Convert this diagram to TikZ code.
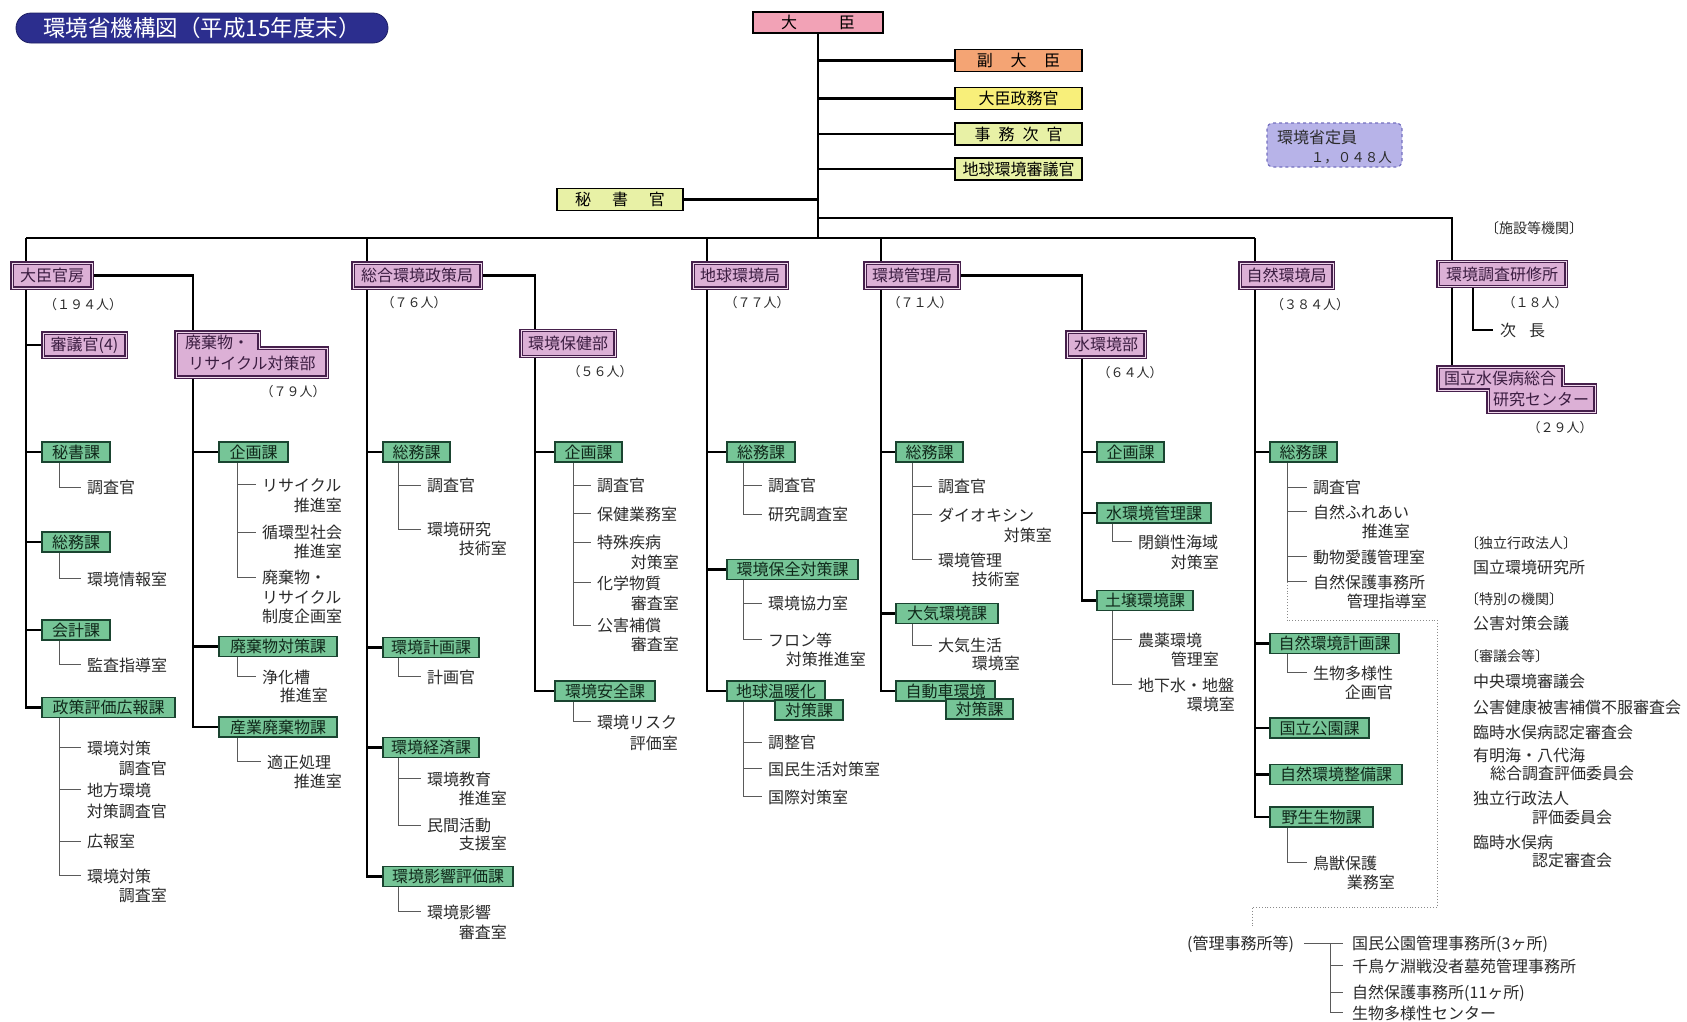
\documentclass[tikz,border=0pt]{standalone}
\usepackage{fontspec}
\setmainfont{Noto Sans CJK JP}
\usetikzlibrary{backgrounds}
\definecolor{pbfill}{HTML}{DCB0D6}
\definecolor{pbdraw}{HTML}{46204C}
\definecolor{pbmid}{HTML}{F0D8EC}
\definecolor{gfill}{HTML}{76C597}
\definecolor{gdraw}{HTML}{1A4430}
\definecolor{gtext}{HTML}{10281A}
\definecolor{ptext}{HTML}{3A1C40}
\definecolor{titleblue}{HTML}{2C2E8E}
\definecolor{daijinc}{HTML}{F2A2B6}
\definecolor{fukuc}{HTML}{F4A474}
\definecolor{seimuc}{HTML}{F8EF7A}
\definecolor{jimuc}{HTML}{E8F1A6}
\definecolor{teiinc}{HTML}{B7B3E8}
\definecolor{teiind}{HTML}{7470C0}
\definecolor{subgray}{HTML}{5A5A5A}
\definecolor{txt}{HTML}{2A2A2A}
\definecolor{dotc}{HTML}{8A8A8A}
\tikzset{
  every node/.style={font=\fontsize{16}{19}\selectfont, inner sep=0pt, text=txt},
  gbox/.style={draw=gdraw, fill=gfill, line width=1.6pt, minimum height=20pt, text=gtext},
  pbox/.style={draw=pbdraw, double=pbmid, double distance=0.9pt, line width=1.2pt, fill=pbfill, minimum height=25pt, text=ptext},
  pshape/.style={draw=pbdraw, double=pbmid, double distance=0.9pt, line width=1.2pt, fill=pbfill},
  tbox/.style={draw=black, line width=1.8pt, minimum width=127pt, minimum height=22pt, text=black},
  st/.style={text=txt},
  cnt/.style={font=\fontsize{13}{15}\selectfont, text=txt},
  brk/.style={font=\fontsize{14}{16}\selectfont, text=txt},
  conn/.style={line width=2.5pt, black},
  subl/.style={line width=0.9pt, subgray},
  dotl/.style={line width=0.9pt, dotc, dotted},
}
\newcommand\GBox[5]{\node[gbox,minimum width=#4pt] (#1) at (#2,#3) {#5};}
\newcommand\SubL[4]{\node[st,anchor=base west] (#1) at (#2,#3+6) {#4};}
\newcommand\SubR[4]{\node[st,anchor=base east] (#1) at (#2,#3+6) {#4};}
\newcommand\SubLines[4]{\draw[subl] (#1.south -| #2) -- (#2 |- #3.west); \foreach \n in {#4} {\draw[subl] (#2 |- \n.west) -- ([xshift=-6pt]\n.west);}}
\begin{document}
\begin{tikzpicture}[x=1pt,y=-1pt]
\useasboundingbox (0,0) rectangle (1687,1021);
\begin{scope}[on background layer]
\fill[white] (0,0) rectangle (1687,1021);
\end{scope}

% coordinates
\coordinate (barL) at (26,238);
\coordinate (barR) at (1255,238);
\coordinate (bar1R) at (1452,218);
\coordinate (mnTop) at (1452,367);
\coordinate (v2) at (193,0);
\coordinate (v3) at (367,238);
\coordinate (v4) at (535,0);
\coordinate (v5) at (707,238);
\coordinate (v6) at (881,238);
\coordinate (v7) at (1082,0);
\coordinate (v9) at (1473,0);
\coordinate (x1) at (59,0);
\coordinate (x2) at (237,0);
\coordinate (x3) at (398,0);
\coordinate (x4) at (573,0);
\coordinate (x5) at (743,0);
\coordinate (x6) at (912,0);
\coordinate (x7) at (1112,0);
\coordinate (x8) at (1287,0);
\coordinate (kx) at (1330,0);
\coordinate (d1) at (1287,620);
\coordinate (d2) at (1437,620);
\coordinate (d3) at (1437,907);
\coordinate (d4) at (1252,907);
\coordinate (d5) at (1252,928);

% title
\node[fill=titleblue, draw=titleblue!70!black, line width=0.8pt, rounded corners=15pt, minimum width=372pt, minimum height=30pt, text=white, font=\fontsize{22.5}{26}\selectfont] (title) at (202,28) {環境省機構図（平成15年度末）};

% top boxes
\node[tbox, fill=daijinc, minimum width=130pt, minimum height=21pt] (daijin) at (818,22.5) {大\hspace{2.6em}臣};
\node[tbox, fill=fukuc] (fuku) at (1018.5,60.5) {副\hspace{1.1em}大\hspace{1.1em}臣};
\node[tbox, fill=seimuc] (seimu) at (1018.5,98.5) {大臣政務官};
\node[tbox, fill=jimuc] (jimu) at (1018.5,134) {事\hspace{0.5em}務\hspace{0.5em}次\hspace{0.5em}官};
\node[tbox, fill=jimuc] (chikyushin) at (1018.5,169) {地球環境審議官};
\node[tbox, fill=jimuc, minimum width=126pt] (hisho) at (620,199.5) {秘\hspace{1.3em}書\hspace{1.3em}官};

% teiin
\node[draw=teiind, dashed, line width=1.2pt, fill=teiinc, rounded corners=6pt, minimum width=135pt, minimum height=44pt] (teiin) at (1334.5,145) {};
\node[st, anchor=base west] (teiin1) at (1277,137+6) {環境省定員};
\node[st, anchor=base east, font=\fontsize{13.5}{16}\selectfont] (teiin2) at (1392,156+6) {１，０４８人};

\node[brk] (shisetsu) at (1534,228) {〔施設等機関〕};

% bureaus
\node[pbox, minimum width=80pt] (kanbo) at (52,275.5) {大臣官房};
\node[pbox, minimum width=128pt] (sogo) at (417,275.5) {総合環境政策局};
\node[pbox, minimum width=94pt] (chikyu) at (740,275.5) {地球環境局};
\node[pbox, minimum width=94pt] (kanri) at (912,275.5) {環境管理局};
\node[pbox, minimum width=93pt] (shizen) at (1286.5,275.5) {自然環境局};
\node[pbox, minimum width=128pt] (kenshu) at (1502,274) {環境調査研修所};

% counts
\node[cnt] (c1) at (83,305) {（１９４人）};
\node[cnt] (c2) at (414,303) {（７６人）};
\node[cnt] (c3) at (293,392) {（７９人）};
\node[cnt] (c4) at (600,372) {（５６人）};
\node[cnt] (c5) at (757,303) {（７７人）};
\node[cnt] (c6) at (920,303) {（７１人）};
\node[cnt] (c7) at (1130,373) {（６４人）};
\node[cnt] (c8) at (1310,305) {（３８４人）};
\node[cnt] (c9) at (1535,303) {（１８人）};
\node[cnt] (c10) at (1560,428) {（２９人）};
\node[st, anchor=base west] (jicho) at (1500,330+6) {次\hspace{0.8em}長};

% second level
\node[pbox, minimum width=83pt, minimum height=24pt] (shingi) at (84.5,345) {審議官(4)};
\draw[pshape] (176,332) -- (259,332) -- (259,348) -- (327,348) -- (327,377) -- (176,377) -- cycle;
\node[text=ptext] (hk1) at (217,342) {廃棄物・};
\node[text=ptext] (hk2) at (252,363) {リサイクル対策部};
\node[pbox, minimum width=94pt, minimum height=26pt] (hoken) at (568,343.5) {環境保健部};
\node[pbox, minimum width=78pt] (mizu) at (1106,344.5) {水環境部};
\draw[pshape] (1438,367) -- (1563,367) -- (1563,385) -- (1595,385) -- (1595,412) -- (1488,412) -- (1488,390) -- (1438,390) -- cycle;
\node[text=ptext] (mn1) at (1500,378) {国立水俣病総合};
\node[text=ptext] (mn2) at (1541,399) {研究センター};

% green boxes
\GBox{b11}{76}{452}{68}{秘書課}
\GBox{b12}{76}{542}{68}{総務課}
\GBox{b13}{76}{630}{68}{会計課}
\GBox{b14}{108.5}{707.5}{133}{政策評価広報課}
\GBox{b21}{253.5}{452}{69}{企画課}
\GBox{b22}{278}{646.5}{118}{廃棄物対策課}
\GBox{b23}{278}{727}{118}{産業廃棄物課}
\GBox{b31}{416.5}{452}{67}{総務課}
\GBox{b32}{431}{647.5}{96}{環境計画課}
\GBox{b33}{431}{747.5}{96}{環境経済課}
\GBox{b34}{448}{876.5}{130}{環境影響評価課}
\GBox{b41}{588.5}{452}{67}{企画課}
\GBox{b42}{605}{691}{100}{環境安全課}
\GBox{b51}{761}{452}{68}{総務課}
\GBox{b52}{792.5}{569.5}{131}{環境保全対策課}
\GBox{b53a}{776}{691}{98}{地球温暖化}
\GBox{b53b}{809}{710}{68}{対策課}
\GBox{b61}{929.5}{452}{67}{総務課}
\GBox{b62}{947}{613.5}{102}{大気環境課}
\GBox{b63a}{945.5}{691}{99}{自動車環境}
\GBox{b63b}{979.5}{709}{67}{対策課}
\GBox{b71}{1130.5}{452}{67}{企画課}
\GBox{b72}{1154}{513}{114}{水環境管理課}
\GBox{b73}{1145}{600.5}{96}{土壌環境課}
\GBox{b81}{1303.5}{452}{67}{総務課}
\GBox{b82}{1334.5}{643.5}{129}{自然環境計画課}
\GBox{b83}{1319.5}{728}{99}{国立公園課}
\GBox{b84}{1336}{774.5}{132}{自然環境整備課}
\GBox{b85}{1321.5}{817}{103}{野生生物課}

% sub items
\SubL{s11a}{87}{487}{調査官}
\SubL{s12a}{87}{579}{環境情報室}
\SubL{s13a}{87}{665}{監査指導室}
\SubL{s14a}{87}{748}{環境対策} \SubR{s14a2}{167}{768}{調査官}
\SubL{s14b}{87}{790}{地方環境} \SubR{s14b2}{167}{811}{対策調査官}
\SubL{s14c}{87}{841}{広報室}
\SubL{s14d}{87}{876}{環境対策} \SubR{s14d2}{167}{895}{調査室}
\SubL{s21a}{262}{485}{リサイクル} \SubR{s21a2}{342}{505}{推進室}
\SubL{s21b}{262}{532}{循環型社会} \SubR{s21b2}{342}{551}{推進室}
\SubL{s21c}{262}{577}{廃棄物・} \SubL{s21c2}{262}{597}{リサイクル} \SubL{s21c3}{262}{616}{制度企画室}
\SubL{s22a}{262}{677}{浄化槽} \SubR{s22a2}{328}{695}{推進室}
\SubL{s23a}{267}{762}{適正処理} \SubR{s23a2}{342}{781}{推進室}
\SubL{s31a}{427}{485}{調査官}
\SubL{s31b}{427}{529}{環境研究} \SubR{s31b2}{507}{548}{技術室}
\SubL{s32a}{427}{677}{計画官}
\SubL{s33a}{427}{779}{環境教育} \SubR{s33a2}{507}{798}{推進室}
\SubL{s33b}{427}{825}{民間活動} \SubR{s33b2}{507}{843}{支援室}
\SubL{s34a}{427}{912}{環境影響} \SubR{s34a2}{507}{932}{審査室}
\SubL{s41a}{597}{485}{調査官}
\SubL{s41b}{597}{514}{保健業務室}
\SubL{s41c}{597}{542}{特殊疾病} \SubR{s41c2}{679}{562}{対策室}
\SubL{s41d}{597}{583}{化学物質} \SubR{s41d2}{679}{603}{審査室}
\SubL{s41e}{597}{625}{公害補償} \SubR{s41e2}{679}{644}{審査室}
\SubL{s42a}{597}{722}{環境リスク} \SubR{s42a2}{678}{743}{評価室}
\SubL{s51a}{768}{485}{調査官}
\SubL{s51b}{768}{514}{研究調査室}
\SubL{s52a}{768}{603}{環境協力室}
\SubL{s52b}{768}{640}{フロン等} \SubR{s52b2}{866}{659}{対策推進室}
\SubL{s53a}{768}{742}{調整官}
\SubL{s53b}{768}{769}{国民生活対策室}
\SubL{s53c}{768}{797}{国際対策室}
\SubL{s61a}{938}{486}{調査官}
\SubL{s61b}{938}{515}{ダイオキシン} \SubR{s61b2}{1052}{535}{対策室}
\SubL{s61c}{938}{560}{環境管理} \SubR{s61c2}{1020}{579}{技術室}
\SubL{s62a}{938}{645}{大気生活} \SubR{s62a2}{1020}{663}{環境室}
\SubL{s72a}{1138}{542}{閉鎖性海域} \SubR{s72a2}{1219}{562}{対策室}
\SubL{s73a}{1138}{640}{農薬環境} \SubR{s73a2}{1219}{659}{管理室}
\SubL{s73b}{1138}{685}{地下水・地盤} \SubR{s73b2}{1235}{704}{環境室}
\SubL{s81a}{1313}{487}{調査官}
\SubL{s81b}{1313}{512}{自然ふれあい} \SubR{s81b2}{1410}{531}{推進室}
\SubL{s81c}{1313}{557}{動物愛護管理室}
\SubL{s81d}{1313}{582}{自然保護事務所} \SubR{s81d2}{1427}{601}{管理指導室}
\SubL{s82a}{1313}{673}{生物多様性} \SubR{s82a2}{1393}{692}{企画官}
\SubL{s85a}{1313}{863}{鳥獣保護} \SubR{s85a2}{1395}{882}{業務室}

% right list
\node[brk, anchor=base west] (r1) at (1465,542+6) {〔独立行政法人〕};
\SubL{r2}{1473}{567}{国立環境研究所}
\node[brk, anchor=base west] (r3) at (1465,598+6) {〔特別の機関〕};
\SubL{r4}{1473}{623}{公害対策会議}
\node[brk, anchor=base west] (r5) at (1465,655+6) {〔審議会等〕};
\SubL{r6}{1473}{681}{中央環境審議会}
\SubL{r7}{1473}{707}{公害健康被害補償不服審査会}
\SubL{r8}{1473}{732}{臨時水俣病認定審査会}
\SubL{r9}{1473}{755}{有明海・八代海}
\SubL{r9b}{1490}{773}{総合調査評価委員会}
\SubL{r10}{1473}{798}{独立行政法人}
\SubL{r10b}{1532}{817}{評価委員会}
\SubL{r11}{1473}{842}{臨時水俣病}
\SubL{r11b}{1532}{860}{認定審査会}

% bottom
\SubL{kj}{1187}{943}{(管理事務所等)}
\SubL{k1}{1352}{943}{国民公園管理事務所(3ヶ所)}
\SubL{k2}{1352}{966}{千鳥ケ淵戦没者墓苑管理事務所}
\SubL{k3}{1352}{992}{自然保護事務所(11ヶ所)}
\SubL{k4}{1352}{1013}{生物多様性センター}

% connectors
\begin{scope}[on background layer]
\draw[conn] (daijin.south) -- (daijin.south |- barL);
\foreach \b in {fuku,seimu,jimu,chikyushin} {\draw[conn] (daijin.south |- \b.west) -- (\b.west);}
\draw[conn] (hisho.east) -- (daijin.south |- hisho.east);
\draw[conn] (daijin.south |- bar1R) -- (bar1R) -- (mnTop);
\draw[conn] (barL) -- (barR);
\draw[conn] (barL) -- (barL |- b14.west) -- (b14.west);
\draw[conn] (v3) -- (v3 |- b34.west) -- (b34.west);
\draw[conn] (v5) -- (v5 |- b53a.west) -- (b53a.west);
\draw[conn] (v6) -- (v6 |- b63a.west) -- (b63a.west);
\draw[conn] (barR) -- (barR |- b85.west) -- (b85.west);
\foreach \b in {shingi,b11,b12,b13} {\draw[conn] (barL |- \b.west) -- (\b.west);}
\draw[conn] (kanbo.east) -- (kanbo.east -| v2) -- (v2 |- b23.west) -- (b23.west);
\foreach \b in {b21,b22} {\draw[conn] (v2 |- \b.west) -- (\b.west);}
\foreach \b in {b31,b32,b33} {\draw[conn] (v3 |- \b.west) -- (\b.west);}
\draw[conn] (sogo.east) -- (sogo.east -| v4) -- (v4 |- b42.west) -- (b42.west);
\draw[conn] (v4 |- b41.west) -- (b41.west);
\foreach \b in {b51,b52} {\draw[conn] (v5 |- \b.west) -- (\b.west);}
\foreach \b in {b61,b62} {\draw[conn] (v6 |- \b.west) -- (\b.west);}
\draw[conn] (kanri.east) -- (kanri.east -| v7) -- (v7 |- b73.west) -- (b73.west);
\foreach \b in {b71,b72} {\draw[conn] (v7 |- \b.west) -- (\b.west);}
\foreach \b in {b81,b82,b83,b84} {\draw[conn] (barR |- \b.west) -- (\b.west);}
\draw[conn] (kenshu.south -| v9) -- (v9 |- jicho.west) -- ([xshift=-7pt]jicho.west);

\SubLines{b11}{x1}{s11a}{s11a}
\SubLines{b12}{x1}{s12a}{s12a}
\SubLines{b13}{x1}{s13a}{s13a}
\SubLines{b14}{x1}{s14d}{s14a,s14b,s14c,s14d}
\SubLines{b21}{x2}{s21c}{s21a,s21b,s21c}
\SubLines{b22}{x2}{s22a}{s22a}
\SubLines{b23}{x2}{s23a}{s23a}
\SubLines{b31}{x3}{s31b}{s31a,s31b}
\SubLines{b32}{x3}{s32a}{s32a}
\SubLines{b33}{x3}{s33b}{s33a,s33b}
\SubLines{b34}{x3}{s34a}{s34a}
\SubLines{b41}{x4}{s41e}{s41a,s41b,s41c,s41d,s41e}
\SubLines{b42}{x4}{s42a}{s42a}
\SubLines{b51}{x5}{s51b}{s51a,s51b}
\SubLines{b52}{x5}{s52b}{s52a,s52b}
\SubLines{b53a}{x5}{s53c}{s53a,s53b,s53c}
\SubLines{b61}{x6}{s61c}{s61a,s61b,s61c}
\SubLines{b62}{x6}{s62a}{s62a}
\SubLines{b72}{x7}{s72a}{s72a}
\SubLines{b73}{x7}{s73b}{s73a,s73b}
\SubLines{b81}{x8}{s81d}{s81a,s81b,s81c,s81d}
\SubLines{b82}{x8}{s82a}{s82a}
\SubLines{b85}{x8}{s85a}{s85a}
\draw[dotl] (x8 |- s81d.west) -- (d1) -- (d2) -- (d3) -- (d4) -- (d5);
\draw[subl] ([xshift=10pt]kj.east |- k1.west) -- ([xshift=-9pt]k1.west);
\draw[subl] (kx |- k1.west) -- (kx |- k4.west);
\foreach \n in {k2,k3,k4} {\draw[subl] (kx |- \n.west) -- ([xshift=-9pt]\n.west);}
\end{scope}
\end{tikzpicture}
\end{document}
